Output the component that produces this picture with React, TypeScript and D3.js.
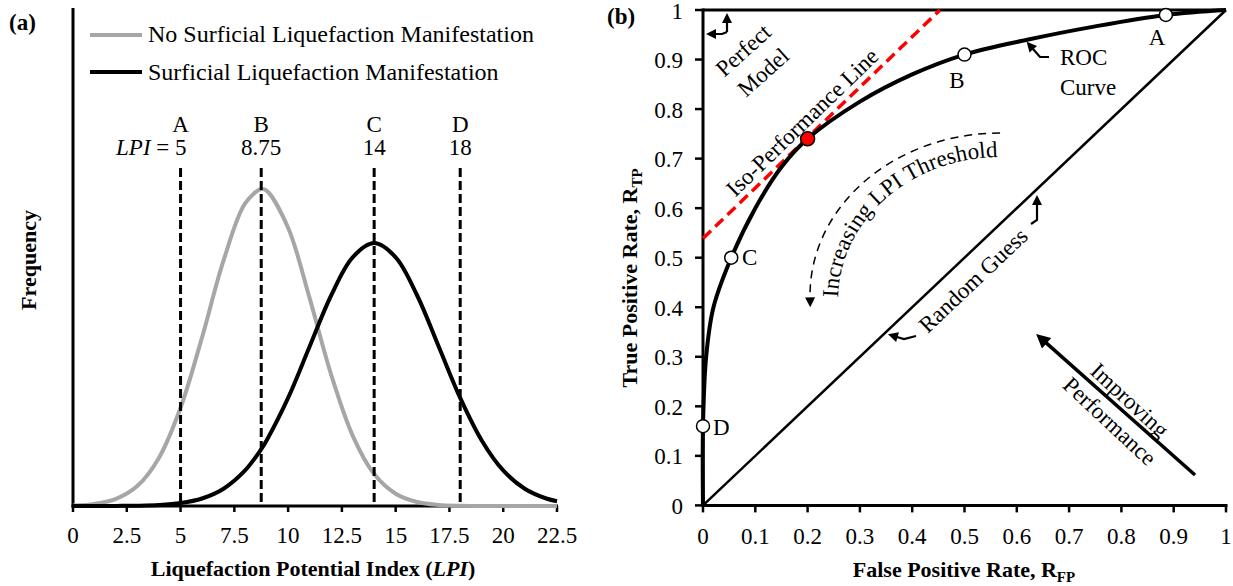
import React from 'react';
import * as d3 from 'd3';

// ---------- Panel (a) data ----------
const lpiGrid = [0, 1, 2, 3, 4, 5, 6, 7, 8, 8.75, 9, 10, 11, 12, 13, 14, 15, 16, 17, 18, 19, 20, 21, 22, 22.5];
const noManifestFreq = [0.0011, 0.0043, 0.0144, 0.0407, 0.0975, 0.198, 0.34, 0.495, 0.61, 0.639, 0.636, 0.561, 0.419, 0.265, 0.142, 0.0643, 0.0247, 0.008, 0.0022, 0.0005, 0.0001, 0, 0, 0, 0];
const manifestFreq = [0, 0, 0.0002, 0.0006, 0.002, 0.0059, 0.0151, 0.0348, 0.0717, 0.1146, 0.1322, 0.2179, 0.3215, 0.4244, 0.5014, 0.53, 0.5014, 0.4244, 0.3215, 0.2179, 0.1322, 0.0717, 0.0348, 0.0151, 0.0096];
const lpiTicks = [0, 2.5, 5, 7.5, 10, 12.5, 15, 17.5, 20, 22.5];
const thresholdLPI = [5, 8.75, 14, 18];
const thresholdNames = ['A', 'B', 'C', 'D'];
const thresholdText = ['5', '8.75', '14', '18'];
const legendLabels = ['No Surficial Liquefaction Manifestation', 'Surficial Liquefaction Manifestation'];

// ---------- Panel (b) data ----------
const rocFPR = [0, 0, 0.006, 0.02, 0.054, 0.1, 0.15, 0.2, 0.3, 0.4, 0.5, 0.62, 0.75, 0.885, 1];
const rocTPR = [0, 0.16, 0.3, 0.4, 0.5, 0.6, 0.683, 0.74, 0.815, 0.87, 0.91, 0.94, 0.967, 0.99, 1];
const rocPointNames = ['A', 'B', 'C', 'D'];
const rocPointFPR = [0.885, 0.5, 0.054, 0];
const rocPointTPR = [0.99, 0.91, 0.5, 0.16];
const optimalFPR = 0.2;
const optimalTPR = 0.74;
const isoFPR = [0, 0.453];
const isoTPR = [0.539, 1];
const rateTicks = [0, 0.1, 0.2, 0.3, 0.4, 0.5, 0.6, 0.7, 0.8, 0.9, 1];
const rateTickText = ['0', '0.1', '0.2', '0.3', '0.4', '0.5', '0.6', '0.7', '0.8', '0.9', '1'];

const FONT = "'Liberation Serif', 'Times New Roman', serif";
const GRAY = '#a6a6a6';

type P = [number, number];

// polyline with the last point pulled back so that a mid-referenced marker puts its tip exactly on the point
function arrowD(pts: P[], headLen: number): string {
  const n = pts.length;
  const [x1, y1] = pts[n - 2];
  const [x2, y2] = pts[n - 1];
  const len = Math.hypot(x2 - x1, y2 - y1);
  const ux = (x2 - x1) / len;
  const uy = (y2 - y1) / len;
  const end: P = [x2 - ux * headLen * 0.5, y2 - uy * headLen * 0.5];
  const all = pts.slice(0, n - 1).concat([end]);
  return 'M' + all.map((p) => p[0] + ',' + p[1]).join('L');
}

export default function App() {
  // scales panel (a)
  const xL = d3.scaleLinear().domain([0, 22.5]).range([73, 557]);
  const yL = d3.scaleLinear().domain([0, 1]).range([506, 10]);
  // scales panel (b)
  const xR = d3.scaleLinear().domain([0, 1]).range([703, 1226]);
  const yR = d3.scaleLinear().domain([0, 1]).range([505.4, 10]);

  const grayPath = d3
    .line<number>()
    .x((_, i) => xL(lpiGrid[i]))
    .y((v) => yL(v))
    .curve(d3.curveCatmullRom.alpha(0.5))(noManifestFreq) || '';
  const blackPath = d3
    .line<number>()
    .x((_, i) => xL(lpiGrid[i]))
    .y((v) => yL(v))
    .curve(d3.curveCatmullRom.alpha(0.5))(manifestFreq) || '';

  const rocPath = d3
    .line<number>()
    .x((v) => xR(v))
    .y((_, i) => yR(rocTPR[i]))
    .curve(d3.curveCatmullRom.alpha(0.5))(rocFPR) || '';

  const isoPath = d3
    .line<number>()
    .x((v) => xR(v))
    .y((_, i) => yR(isoTPR[i]))(isoFPR) || '';

  const txt = { fontFamily: FONT, fontSize: 23, fill: '#000' } as const;
  const bold = { fontFamily: FONT, fontSize: 22, fontWeight: 700, fill: '#000' } as const;

  // annotation geometry
  const arcCx = xR(0.568);
  const arcCy = yR(0.42);
  const AH = 12;

  return (
    <svg width={1233} height={586} style={{ position: 'absolute', left: 0, top: 0, background: '#fff' }}>
      <defs>
        <marker id="ahSmall" viewBox="0 0 10 10" refX={5} refY={5} markerWidth={AH} markerHeight={10} markerUnits="userSpaceOnUse" orient="auto">
          <path d="M0,0L10,5L0,10z" fill="#000" />
        </marker>
        <marker id="ahBig" viewBox="0 0 10 10" refX={5} refY={5} markerWidth={17} markerHeight={14} markerUnits="userSpaceOnUse" orient="auto">
          <path d="M0,0L10,5L0,10z" fill="#000" />
        </marker>
        <marker id="ahDash" viewBox="0 0 10 10" refX={0} refY={5} markerWidth={13} markerHeight={10} markerUnits="userSpaceOnUse" orient="auto">
          <path d="M0,0L10,5L0,10z" fill="#000" />
        </marker>
      </defs>

      {/* ================= Panel (a) ================= */}
      <text x={9} y={30} {...bold} fontSize={23}>(a)</text>

      {/* legend */}
      <line x1={90} x2={142} y1={35} y2={35} stroke={GRAY} strokeWidth={4} />
      <text x={148} y={42} {...txt} fontSize={24}>{legendLabels[0]}</text>
      <line x1={90} x2={142} y1={72} y2={72} stroke="#000" strokeWidth={4} />
      <text x={148} y={80} {...txt} fontSize={24}>{legendLabels[1]}</text>

      {/* axes */}
      <line x1={xL(0)} x2={xL(0)} y1={8} y2={yL(0) + 1.5} stroke="#000" strokeWidth={3} />
      <line x1={xL(0) - 1.5} x2={xL(22.5) + 1} y1={yL(0)} y2={yL(0)} stroke="#000" strokeWidth={3} />
      {lpiTicks.map((t) => (
        <g key={'lt' + t}>
          <line x1={xL(t)} x2={xL(t)} y1={yL(0)} y2={yL(0) + 6} stroke="#000" strokeWidth={2.5} />
          <text x={xL(t)} y={543} textAnchor="middle" {...txt}>{String(t)}</text>
        </g>
      ))}

      {/* curves */}
      <path d={grayPath} fill="none" stroke={GRAY} strokeWidth={4} />
      <path d={blackPath} fill="none" stroke="#000" strokeWidth={4} />

      {/* thresholds */}
      {thresholdLPI.map((v, i) => (
        <g key={'th' + i}>
          <line x1={xL(v)} x2={xL(v)} y1={168} y2={yL(0)} stroke="#000" strokeWidth={3} strokeDasharray="9,4" />
          <text x={xL(v)} y={132} textAnchor="middle" {...txt}>{thresholdNames[i]}</text>
          {i === 0 ? (
            <text x={xL(v) + 6} y={155} textAnchor="end" {...txt}>
              <tspan fontStyle="italic">LPI</tspan>
              <tspan> = {thresholdText[i]}</tspan>
            </text>
          ) : (
            <text x={xL(v)} y={155} textAnchor="middle" {...txt}>{thresholdText[i]}</text>
          )}
        </g>
      ))}

      {/* axis titles */}
      <text x={313} y={576} textAnchor="middle" {...bold}>
        Liquefaction Potential Index (<tspan fontStyle="italic">LPI</tspan>)
      </text>
      <text transform="translate(36,260) rotate(-90)" textAnchor="middle" {...bold}>Frequency</text>

      {/* ================= Panel (b) ================= */}
      <text x={607} y={24} {...bold} fontSize={23}>(b)</text>

      {/* axes */}
      <line x1={xR(0)} x2={xR(0)} y1={yR(1) - 1.5} y2={yR(0) + 1.5} stroke="#000" strokeWidth={3} />
      <line x1={xR(0) - 1.5} x2={xR(1) + 1.5} y1={yR(0)} y2={yR(0)} stroke="#000" strokeWidth={3} />
      <line x1={xR(0)} x2={xR(1)} y1={yR(1)} y2={yR(1)} stroke="#000" strokeWidth={3} />
      {rateTicks.map((t, i) => (
        <g key={'rt' + t}>
          <line x1={xR(0) - 8} x2={xR(0)} y1={yR(t)} y2={yR(t)} stroke="#000" strokeWidth={2.5} />
          <text x={683} y={yR(t) + 8.5} textAnchor="end" {...txt}>{rateTickText[i]}</text>
          <line x1={xR(t)} x2={xR(t)} y1={yR(0)} y2={yR(0) + 7} stroke="#000" strokeWidth={2.5} />
          <text x={xR(t)} y={544} textAnchor="middle" {...txt}>{rateTickText[i]}</text>
        </g>
      ))}

      {/* random guess diagonal */}
      <line x1={xR(0)} y1={yR(0)} x2={xR(1)} y2={yR(1)} stroke="#000" strokeWidth={2.5} />

      {/* iso-performance line */}
      <path d={isoPath} fill="none" stroke="#ff0000" strokeWidth={3.5} strokeDasharray="11,6" />

      {/* ROC */}
      <path d={rocPath} fill="none" stroke="#000" strokeWidth={4} />
      {rocPointNames.map((n, i) => (
        <circle key={'rp' + n} cx={xR(rocPointFPR[i])} cy={yR(rocPointTPR[i])} r={6.5} fill="#fff" stroke="#000" strokeWidth={1.5} />
      ))}
      <circle cx={xR(optimalFPR)} cy={yR(optimalTPR)} r={7} fill="#ff0000" stroke="#000" strokeWidth={1.5} />

      {/* point labels */}
      <text x={1157} y={45} textAnchor="middle" {...txt}>{rocPointNames[0]}</text>
      <text x={957} y={88} textAnchor="middle" {...txt}>{rocPointNames[1]}</text>
      <text x={742} y={265} {...txt}>{rocPointNames[2]}</text>
      <text x={713} y={435} {...txt}>{rocPointNames[3]}</text>

      {/* ROC curve label */}
      <text x={1060} y={65} {...txt}>ROC</text>
      <text x={1060} y={95} {...txt}>Curve</text>
      <path d={arrowD([[1049, 57], [1040, 57], [1026, 41]], AH)} fill="none" stroke="#000" strokeWidth={2.2} markerEnd="url(#ahSmall)" />

      {/* Perfect model */}
      <path d={arrowD([[727, 32], [727, 12]], AH)} fill="none" stroke="#000" strokeWidth={2.2} markerEnd="url(#ahSmall)" />
      <path d={arrowD([[727, 32], [722, 34], [705, 34]], AH)} fill="none" stroke="#000" strokeWidth={2.2} markerEnd="url(#ahSmall)" />
      <text transform="translate(743,50) rotate(-42)" textAnchor="middle" dy="0.35em" {...txt}>Perfect</text>
      <text transform="translate(763,72) rotate(-42)" textAnchor="middle" dy="0.35em" {...txt}>Model</text>

      {/* Iso-performance label */}
      <text transform="translate(802,122) rotate(-44)" textAnchor="middle" dy="0.35em" {...txt}>Iso-Performance Line</text>

      {/* Increasing LPI threshold */}
      <path id="lpiArc" d={`M${arcCx - 162},300 A162,143 0 0 1 ${arcCx},157`} fill="none" stroke="none" />
      <text {...txt}>
        <textPath href="#lpiArc" startOffset="50%" textAnchor="middle">Increasing LPI Threshold</textPath>
      </text>
      <path d={`M${arcCx},133 A190,162 0 0 0 ${arcCx - 190},${arcCy}`} fill="none" stroke="#000" strokeWidth={1.5} strokeDasharray="8,6" markerEnd="url(#ahDash)" />

      {/* Random guess */}
      <text transform="translate(973,280) rotate(-43.4)" textAnchor="middle" dy="0.35em" {...txt}>Random Guess</text>
      <path d={arrowD([[916, 336], [904, 339], [887, 334]], AH)} fill="none" stroke="#000" strokeWidth={2.2} markerEnd="url(#ahSmall)" />
      <path d={arrowD([[1031, 224], [1037, 220], [1037, 194]], AH)} fill="none" stroke="#000" strokeWidth={2.2} markerEnd="url(#ahSmall)" />

      {/* Improving performance */}
      <path d={arrowD([[1195, 475], [1035, 333]], 17)} fill="none" stroke="#000" strokeWidth={3.5} markerEnd="url(#ahBig)" />
      <text transform="translate(1130,400) rotate(43)" textAnchor="middle" dy="0.35em" {...txt}>Improving</text>
      <text transform="translate(1110,421) rotate(43)" textAnchor="middle" dy="0.35em" {...txt}>Performance</text>

      {/* axis titles */}
      <text x={964} y={577} textAnchor="middle" {...bold}>
        False Positive Rate, R<tspan fontSize={15} dy={5}>FP</tspan>
      </text>
      <text transform="translate(637,278) rotate(-90)" textAnchor="middle" {...bold}>
        True Positive Rate, R<tspan fontSize={15} dy={5}>TP</tspan>
      </text>
    </svg>
  );
}
